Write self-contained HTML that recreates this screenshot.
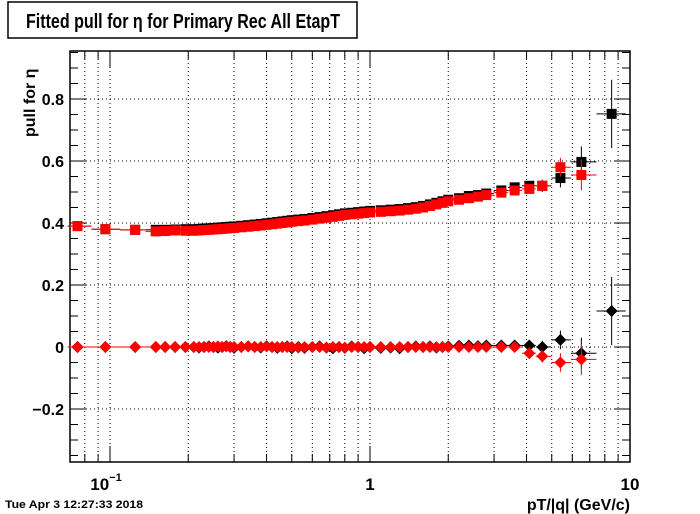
<!DOCTYPE html>
<html><head><meta charset="utf-8"><style>
body{margin:0;background:#fff;}
svg{display:block;font-family:"Liberation Sans",sans-serif;}
</style></head><body>
<svg id="c" width="700" height="514" viewBox="0 0 700 514">
<rect x="0" y="0" width="700" height="514" fill="#fff"/>
<rect x="8" y="2" width="349" height="36" fill="#fff" stroke="#000" stroke-width="1.5"/>
<text x="26" y="28" font-size="20" font-weight="bold" textLength="314" lengthAdjust="spacingAndGlyphs">Fitted pull for  η for Primary Rec All EtapT</text>
<text transform="translate(35,137) rotate(-90)" font-size="16" font-weight="bold">pull for  η</text>
<text x="630" y="510" text-anchor="end" font-size="16" font-weight="bold">pT/|q| (GeV/c)</text>
<text x="5" y="508" font-size="11" font-weight="bold" textLength="138" lengthAdjust="spacingAndGlyphs">Tue Apr  3 12:27:33 2018</text>
<g id="grid"></g><g id="axes"></g><g id="marks"></g>
</svg>
<script>
const pt=[0.075,0.096,0.125,0.15,0.163,0.178,0.195,0.21,0.22,0.23,0.24,0.25,0.26,0.27,0.28,0.29,0.30,0.32,0.34,0.36,0.38,0.40,0.42,0.44,0.46,0.48,0.50,0.53,0.56,0.60,0.64,0.68,0.72,0.76,0.80,0.85,0.90,0.95,1.0,1.1,1.2,1.3,1.4,1.5,1.6,1.7,1.8,1.9,2.0,2.2,2.4,2.6,2.8,3.2,3.6,4.1,4.6,5.4,6.5,8.5];
const redUpper=[0.39,0.38,0.378,0.373,0.374,0.376,0.375,0.375,0.376,0.377,0.378,0.379,0.380,0.381,0.382,0.383,0.384,0.386,0.388,0.39,0.392,0.394,0.396,0.398,0.40,0.402,0.404,0.406,0.408,0.411,0.414,0.417,0.42,0.423,0.426,0.428,0.43,0.432,0.434,0.436,0.438,0.44,0.443,0.446,0.45,0.455,0.46,0.465,0.47,0.475,0.48,0.485,0.49,0.498,0.505,0.51,0.52,0.58,0.555,null];
const blackUpper=[0.39,0.38,0.378,0.378,0.378,0.379,0.38,0.38,0.381,0.382,0.383,0.384,0.385,0.386,0.387,0.388,0.389,0.391,0.393,0.395,0.397,0.399,0.401,0.403,0.405,0.407,0.409,0.411,0.413,0.416,0.419,0.422,0.425,0.428,0.431,0.433,0.435,0.437,0.439,0.441,0.443,0.445,0.448,0.451,0.455,0.46,0.465,0.47,0.475,0.48,0.487,0.49,0.495,0.505,0.515,0.52,0.52,0.545,0.597,0.752];
const blackLower=[0,0,0,0,0,0,0,0,-0.002,0,0.002,0,-0.002,0,0.003,0,-0.003,0,0.002,0,-0.002,0.003,0,-0.003,0,0.002,-0.004,0,-0.003,0,0.002,-0.002,-0.004,0,-0.003,0.002,0,-0.004,0,-0.003,-0.002,-0.004,0,0.002,0,0.002,-0.002,0,0.002,0.004,0.005,0.003,0.005,0.005,0.005,0.005,0,0.023,-0.02,0.116];
const redLower=[0,0,0,0,0,0,0,0,0,0,0,0,0.002,0,0.002,0,0,0,0.002,0,0,0.002,0,0,0,0,0,-0.002,0,0,0,-0.002,0,0,-0.002,0,0,0,0,0,0,0,0,0,0,0,0,0,0,0,0,0,0,0,0,-0.02,-0.03,-0.05,-0.04,null];
const yErr=[0.004,0.004,0.004,0.003,0.003,0.003,0.003,0.003,0.003,0.003,0.003,0.003,0.003,0.003,0.003,0.003,0.003,0.003,0.003,0.003,0.003,0.003,0.003,0.003,0.003,0.003,0.003,0.003,0.003,0.003,0.003,0.003,0.003,0.003,0.003,0.003,0.003,0.003,0.003,0.004,0.004,0.004,0.004,0.004,0.005,0.005,0.005,0.005,0.006,0.006,0.007,0.008,0.009,0.01,0.012,0.015,0.02,0.03,0.05,0.11];
const yTicks=[-0.2,0,0.2,0.4,0.6,0.8];
const yTickLabels=["\u22120.2","0","0.2","0.4","0.6","0.8"];
const NS="http://www.w3.org/2000/svg";
const L=70,R=630,T=51,B=462,Y0=347,YS=310;
const X=v=>370+Math.log10(v)*260;
const Y=v=>Y0-v*YS;
function mk(tag,at,p){const e=document.createElementNS(NS,tag);for(const k in at)e.setAttribute(k,at[k]);p.appendChild(e);return e;}
const grid=document.getElementById('grid'),axes=document.getElementById('axes'),marks=document.getElementById('marks');
for(let d=-2;d<=0;d++)for(let m=1;m<=9;m++){const v=m*Math.pow(10,d);const x=X(v);if(x<=L+1||x>=R-1)continue;
 const g=mk('line',{x1:x,x2:x,y1:T,y2:B,stroke:'#000','stroke-width':1,'stroke-dasharray':'1,3'},grid);
 
 
 const len=m===1?16:8;
 mk('line',{x1:x,x2:x,y1:B,y2:B-len,stroke:'#000'},axes);
 mk('line',{x1:x,x2:x,y1:T,y2:T+len,stroke:'#000'},axes);}
yTicks.forEach((v,i)=>{const y=Y(v);
 const g=mk('line',{x1:L,x2:R,y1:y,y2:y,stroke:'#000','stroke-dasharray':'1,3'},grid);
 
 
 const t=mk('text',{x:L-6,y:y+6,'text-anchor':'end','font-size':16,'font-weight':'bold'},axes);t.textContent=yTickLabels[i];
 
 });
for(let k=-7;k<=19;k++){const v=k*0.05;const y=Y(v);if(y<T||y>B)continue;const len=(k%4===0)?16:8;
 mk('line',{x1:L,x2:L+len,y1:y,y2:y,stroke:'#000'},axes);mk('line',{x1:R,x2:R-len,y1:y,y2:y,stroke:'#000'},axes);}
const fr=mk('rect',{x:L,y:T,width:R-L,height:B-T,fill:'none',stroke:'#000','stroke-width':1.5},axes);


[[0.1,'10','\u22121'],[1,'1',''],[10,'10','']].forEach(([v,b,s])=>{const t=mk('text',{x:X(v)-(s?4:0),y:490,'text-anchor':'middle','font-size':17,'font-weight':'bold'},axes);t.textContent=b;
 
 
 if(s){const u=mk('tspan',{dy:-9,'font-size':11},t);u.textContent=s;}});
function series(vals,color,shape,name){const g=mk('g',{},marks);
 
 
 vals.forEach((v,i)=>{if(v===null)return;const x=X(pt[i]),y=Y(v);
 const lo=i>0?X(Math.sqrt(pt[i]*pt[i-1])):x-10,hi=i<pt.length-1?X(Math.sqrt(pt[i]*pt[i+1])):x+14;
 mk('line',{x1:lo,x2:hi,y1:y,y2:y,stroke:color,'stroke-width':1},g);
 const e=yErr[i]*YS;mk('line',{x1:x,x2:x,y1:y-e,y2:y+e,stroke:color,'stroke-width':1},g);
 let m;if(shape==='sq')m=mk('rect',{x:x-5,y:y-5,width:10,height:10,fill:color},g);
 else m=mk('polygon',{points:`${x},${y-6} ${x+6},${y} ${x},${y+6} ${x-6},${y}`,fill:color},g);
 
 });}
series(blackUpper,'#000','sq','black-squares');
series(blackLower,'#000','di','black-diamonds');
series(redUpper,'#f00','sq','red-squares');
series(redLower,'#f00','di','red-diamonds');
</script>
</body></html>
